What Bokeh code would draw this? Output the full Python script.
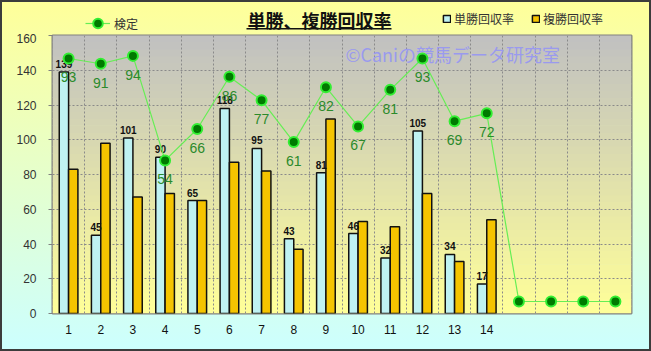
from bokeh.plotting import figure
from bokeh.layouts import column
from bokeh.models import (Range1d, FixedTicker, ColumnDataSource, Label,
                          BoxAnnotation, Legend, LegendItem, Arrow)
from bokeh.transform import dodge
from bokeh.core.properties import value
from bokeh.embed import file_html
from bokeh.resources import INLINE

# ---- data ----
categories = list(range(1, 19))          # 18 slots on the x axis
horse_numbers = list(range(1, 15))       # labelled slots
x_tick_labels = [str(n) for n in horse_numbers]
tansho = [139, 45, 101, 90, 65, 118, 95, 43, 81, 46, 32, 105, 34, 17]      # 単勝回収率
fukusho = [83, 98, 67, 69, 65, 87, 82, 37, 112, 53, 50, 69, 30, 54]        # 複勝回収率
kentei = [93, 91, 94, 54, 66, 86, 77, 61, 82, 67, 81, 93, 69, 72, 0, 0, 0, 0]  # 検定
y_ticks = [0, 20, 40, 60, 80, 100, 120, 140, 160]

title_text = "単勝、複勝回収率"
watermark_text = "©Caniの競馬データ研究室"
legend_labels = ["検定", "単勝回収率", "複勝回収率"]

W = 651
TOP_H = 33
MAIN_H = 318
BORDER_L, BORDER_R = 52, 20

BAR1 = dict(fill_color="#bff2f2", line_color="#111111", line_width=1.5)
BAR2 = dict(fill_color="#f5c400", line_color="#111111", line_width=1.5)
LINE = dict(line_color="#66ee55", line_width=1.2)
MARK = dict(size=10, fill_color="#007a00", line_color="#33ee33", line_width=2)

# ================= main chart =================
p = figure(width=W, height=MAIN_H, output_backend="svg", toolbar_location=None,
           x_range=Range1d(0.5, 18.5), y_range=Range1d(0, 160),
           min_border_left=BORDER_L, min_border_right=BORDER_R, min_border_top=2,
           min_border_bottom=38)
p.extra_y_ranges = {"kentei": Range1d(-4.6, 101.8)}
p.border_fill_color = None
p.background_fill_color = None
p.outline_line_color = "#808080"
p.outline_line_width = 2

# plot-area gradient (grey top -> light yellow bottom)
n_bands = 40
top_rgb = (192, 192, 192)
bot_rgb = (255, 255, 153)
for i in range(n_bands):
    t = (i + 0.5) / n_bands
    c = tuple(int(round(bot_rgb[k] + (top_rgb[k] - bot_rgb[k]) * t)) for k in range(3))
    p.add_layout(BoxAnnotation(bottom=160 * i / n_bands,
                               top=160 * (i + 1) / n_bands + 0.4,
                               fill_color="#%02x%02x%02x" % c, fill_alpha=1,
                               line_color=None, level="image"))

# grids
p.xgrid.ticker = FixedTicker(ticks=[c + 0.5 for c in categories[:-1]])
p.ygrid.ticker = FixedTicker(ticks=y_ticks)
for g in (p.xgrid, p.ygrid):
    g.grid_line_color = "#8a8a8a"
    g.grid_line_dash = "2 2"
    g.grid_line_width = 1

# axes
p.xaxis.ticker = FixedTicker(ticks=horse_numbers)
p.xaxis.major_label_overrides = {n: s for n, s in zip(horse_numbers, x_tick_labels)}
p.xaxis.major_tick_line_color = None
p.xaxis.minor_tick_line_color = None
p.xaxis.axis_line_color = None
p.xaxis.major_label_standoff = 5
p.xaxis.major_label_text_font = "Liberation Sans"
p.xaxis.major_label_text_font_size = "12px"
p.xaxis.major_label_text_color = "#111111"

p.yaxis.ticker = FixedTicker(ticks=y_ticks)
p.yaxis.major_tick_out = 4
p.yaxis.major_tick_in = 0
p.yaxis.major_tick_line_color = "#808080"
p.yaxis.minor_tick_line_color = None
p.yaxis.axis_line_color = None
p.yaxis.major_label_standoff = 12
p.yaxis.major_label_text_font = "Liberation Sans"
p.yaxis.major_label_text_font_size = "12px"
p.yaxis.major_label_text_color = "#333333"

# watermark (under the series)
p.add_layout(Label(x=293, y=260, x_units="screen", y_units="screen",
                   text=watermark_text, text_align="left", text_baseline="middle",
                   text_font="Noto Sans CJK JP", text_font_size="18px",
                   text_color="#9a9aee", level="underlay"))

# bars
src_bars = ColumnDataSource(dict(x=horse_numbers, tansho=tansho, fukusho=fukusho,
                                 label=[str(v) for v in tansho]))
p.vbar(x=dodge("x", -0.145, range=p.x_range), top="tansho", bottom=0, width=0.29,
       source=src_bars, **BAR1)
p.vbar(x=dodge("x", 0.145, range=p.x_range), top="fukusho", bottom=0, width=0.29,
       source=src_bars, **BAR2)
p.text(x=dodge("x", -0.145, range=p.x_range), y="tansho", text="label",
       text_align="center", text_baseline="alphabetic", y_offset=-8,
       text_font=value("Liberation Sans"), text_font_size="10px",
       text_font_style="bold", text_color="#111111", source=src_bars)

# 検定 line
src_line = ColumnDataSource(dict(x=categories, v=kentei))
p.line("x", "v", y_range_name="kentei", source=src_line, **LINE)
p.scatter("x", "v", y_range_name="kentei", source=src_line, **MARK)
src_lab = ColumnDataSource(dict(x=horse_numbers, v=kentei[:len(horse_numbers)],
                                t=[str(v) for v in kentei[:len(horse_numbers)]]))
p.text("x", "v", text="t", y_range_name="kentei", y_offset=19,
       text_align="center", text_baseline="middle",
       text_font=value("Liberation Sans"), text_font_size="14px",
       text_color="#2b8a2b", source=src_lab)

# ================= header strip (title + legends) =================
# frame aligned with the main chart's frame (x = 52 .. 631)
h = figure(width=W, height=TOP_H, output_backend="svg", toolbar_location=None,
           x_range=Range1d(0, 1), y_range=Range1d(0, 1),
           x_axis_location=None, y_axis_location=None,
           min_border_left=BORDER_L, min_border_right=BORDER_R,
           min_border_top=0, min_border_bottom=0)
h.grid.visible = False
h.outline_line_color = None
h.border_fill_color = None
h.background_fill_color = None

# legend proxies (same styles as the chart's renderers; NaN -> nothing drawn)
nan = float("nan")
proxy = ColumnDataSource(dict(x=[nan], y=[nan]))
lg_line = h.line("x", "y", source=proxy, **LINE)
lg_mark = h.scatter("x", "y", source=proxy, **MARK)
lg_bar1 = h.vbar(x="x", top="y", width=1, source=proxy, **BAR1)
lg_bar2 = h.vbar(x="x", top="y", width=1, source=proxy, **BAR2)

common = dict(orientation="horizontal", padding=0, margin=0, spacing=0,
              background_fill_alpha=0, border_line_color=None,
              label_text_font="Noto Sans CJK JP", label_text_font_size="12px",
              label_text_color="#333333")
h.add_layout(Legend(items=[LegendItem(label=legend_labels[0], renderers=[lg_line, lg_mark])],
                    location=(85 - BORDER_L, -2), glyph_width=25, glyph_height=24,
                    label_height=24, label_standoff=4, **common))
h.add_layout(Legend(items=[LegendItem(label=legend_labels[1], renderers=[lg_bar1])],
                    location=(442 - BORDER_L, 6.5), glyph_width=9, glyph_height=9,
                    label_height=9, label_standoff=3, **common))
h.add_layout(Legend(items=[LegendItem(label=legend_labels[2], renderers=[lg_bar2])],
                    location=(531 - BORDER_L, 6.5), glyph_width=9, glyph_height=9,
                    label_height=9, label_standoff=3, **common))

h.add_layout(Label(x=319 - BORDER_L, y=13.5, x_units="screen", y_units="screen",
                   text=title_text, text_align="center", text_baseline="middle",
                   text_font="Noto Sans CJK JP", text_font_size="18px",
                   text_font_style="bold", text_color="#111111"))
h.add_layout(Arrow(end=None, x_start=246 - BORDER_L, y_start=4.7,
                   x_end=391 - BORDER_L, y_end=4.7,
                   start_units="screen", end_units="screen",
                   line_color="#111111", line_width=1.5))

layout = column(h, p, spacing=0)
layout.styles = {"background": "linear-gradient(180deg, #ffff99 0%, #ccffff 100%)",
                 "box-shadow": "inset 0 0 0 2px #3c3c3c"}

open("out.html", "w").write(file_html(layout, INLINE))
